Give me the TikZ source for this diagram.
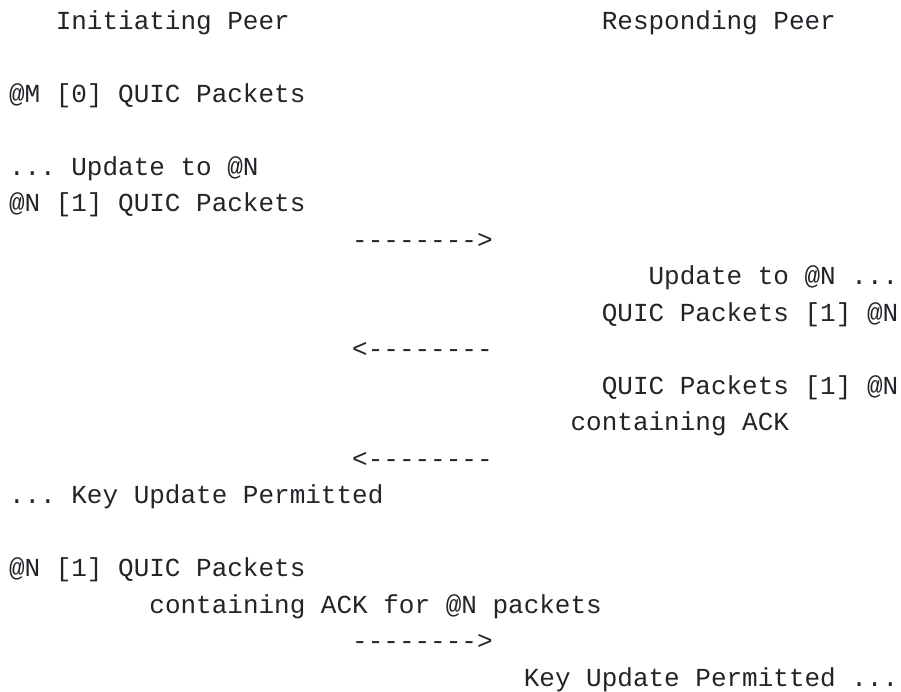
\documentclass[tikz,border=0pt]{standalone}
\usepackage{fontspec}
\setmonofont{Liberation Mono}
\definecolor{ink}{RGB}{33,37,41}
\tikzset{
  txt/.style={anchor=base west, inner sep=0pt, outer sep=0pt, text=ink,
              font=\ttfamily\fontsize{19.5pt}{24pt}\selectfont}
}
\newcommand{\cx}[1]{\fpeval{9+15.6*(#1)}}
\newcommand{\ry}[1]{\fpeval{29.3+36.5*(#1)}}
\begin{document}
\begin{tikzpicture}[x=0.75pt,y=-0.75pt]
\useasboundingbox (0,0) rectangle (901,692);
\node[txt] (ini)  at (\cx{3},\ry{0})  {Initiating Peer};
\node[txt] (resp) at (\cx{38},\ry{0}) {Responding Peer};
\node[txt] (l2)  at (\cx{0},\ry{2})  {@M [0] QUIC Packets};
\node[txt] (l4)  at (\cx{0},\ry{4})  {... Update to @N};
\node[txt] (l5)  at (\cx{0},\ry{5})  {@N [1] QUIC Packets};
\node[txt] (a6)  at (\cx{22},\ry{6}) {-{}-{}-{}-{}-{}-{}-{}->};
\node[txt] (l7)  at (\cx{41},\ry{7}) {Update to @N ...};
\node[txt] (l8)  at (\cx{38},\ry{8}) {QUIC Packets [1] @N};
\node[txt] (a9)  at (\cx{22},\ry{9}) {<-{}-{}-{}-{}-{}-{}-{}-};
\node[txt] (l10) at (\cx{38},\ry{10}) {QUIC Packets [1] @N};
\node[txt] (l11) at (\cx{36},\ry{11}) {containing ACK};
\node[txt] (a12) at (\cx{22},\ry{12}) {<-{}-{}-{}-{}-{}-{}-{}-};
\node[txt] (l13) at (\cx{0},\ry{13})  {... Key Update Permitted};
\node[txt] (l15) at (\cx{0},\ry{15})  {@N [1] QUIC Packets};
\node[txt] (l16) at (\cx{9},\ry{16})  {containing ACK for @N packets};
\node[txt] (a17) at (\cx{22},\ry{17}) {-{}-{}-{}-{}-{}-{}-{}->};
\node[txt] (l18) at (\cx{33},\ry{18}) {Key Update Permitted ...};
\end{tikzpicture}
\end{document}
